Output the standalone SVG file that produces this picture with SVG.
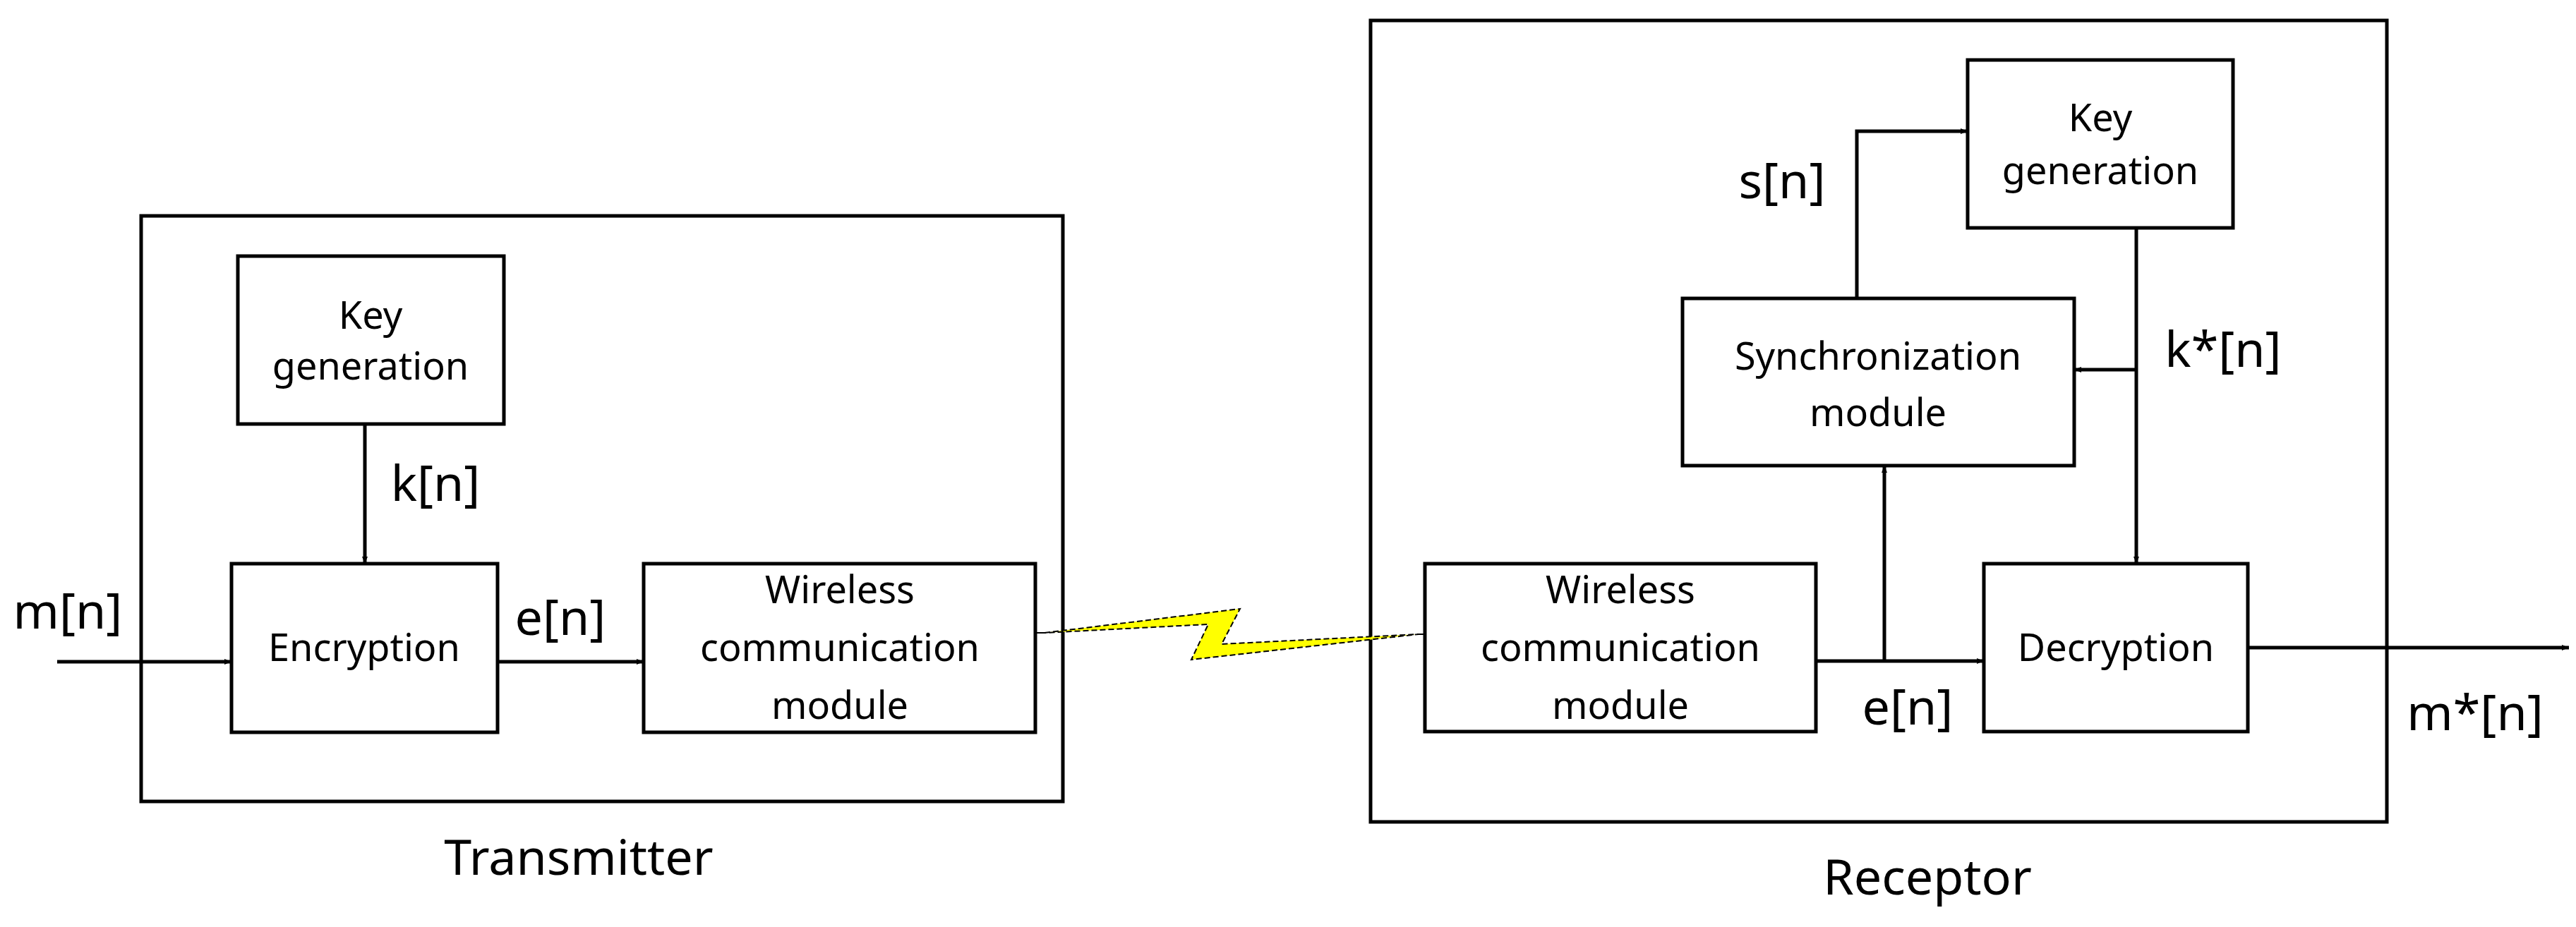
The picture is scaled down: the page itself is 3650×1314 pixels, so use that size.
<svg xmlns="http://www.w3.org/2000/svg" width="3650" height="1314" viewBox="0 0 3650 1314">
<style>
rect{fill:#fff;stroke:#000;stroke-width:5}
text{font-family:"Noto Sans","Liberation Sans",sans-serif;font-size:54px;text-anchor:middle;fill:#000}
.lb{font-size:70px}
.cn{fill:none;stroke:#000;stroke-width:5}
</style>
<defs><marker id="a" markerWidth="10" markerHeight="8" refX="10" refY="4" orient="auto" markerUnits="userSpaceOnUse" viewBox="0 0 10 8"><path d="M0,0L10,4L0,8Z" fill="#000"/></marker></defs>
<rect width="3650" height="1314" style="stroke:none"/>
<g id="transmitter"><rect x="200" y="306" width="1306" height="830"/><text x="820" y="1240" class="lb">Transmitter</text></g>
<g id="receptor"><rect x="1942" y="29" width="1440" height="1136"/><text x="2731" y="1268" class="lb">Receptor</text></g>
<g id="keygen1"><rect x="337" y="363" width="377" height="238"/><text x="525" y="466">Key</text><text x="525" y="538">generation</text></g>
<g id="encryption"><rect x="328" y="799" width="377" height="239"/><text x="516" y="937">Encryption</text></g>
<g id="wireless1"><rect x="912" y="799" width="555" height="239"/><text x="1190" y="855">Wireless</text><text x="1190" y="937">communication</text><text x="1190" y="1019">module</text></g>
<g id="keygen2"><rect x="2788" y="85" width="376" height="238"/><text x="2976" y="186">Key</text><text x="2976" y="261">generation</text></g>
<g id="sync"><rect x="2384" y="423" width="555" height="237"/><text x="2661" y="524">Synchronization</text><text x="2661" y="604">module</text></g>
<g id="wireless2"><rect x="2019" y="799" width="554" height="238"/><text x="2296" y="855">Wireless</text><text x="2296" y="937">communication</text><text x="2296" y="1019">module</text></g>
<g id="decryption"><rect x="2811" y="799" width="374" height="238"/><text x="2998" y="937">Decryption</text></g>
<g id="connectors">
<path class="cn" d="M81,938H328" marker-end="url(#a)" style="stroke-width:5" transform=""/>
<path class="cn" d="M517,601V799" marker-end="url(#a)"/>
<path class="cn" d="M705,938H912" marker-end="url(#a)"/>
<path class="cn" d="M2573,937H2811" marker-end="url(#a)"/>
<path class="cn" d="M2670,937V660" marker-end="url(#a)"/>
<path class="cn" d="M2631,423V186H2788" marker-end="url(#a)"/>
<path class="cn" d="M3027,323V799" marker-end="url(#a)"/>
<path class="cn" d="M3027,524H2939" marker-end="url(#a)"/>
<path class="cn" d="M3185,918H3640" marker-end="url(#a)"/>
<path d="M1467,897H1482M2008,899H2019" stroke="#000" stroke-width="2"/>
<polygon points="1480,897 1757,863 1731,913 2010,899 1688,935 1712,885" fill="#ffff00" stroke="#000" stroke-width="2" stroke-dasharray="8,4"/>
</g>
<g id="labels">
<text x="96" y="891" class="lb">m[n]</text>
<text x="617" y="710" class="lb">k[n]</text>
<text x="794" y="900" class="lb">e[n]</text>
<text x="2525" y="281" class="lb">s[n]</text>
<text x="3150" y="520" class="lb">k*[n]</text>
<text x="2703" y="1027" class="lb">e[n]</text>
<text x="3507" y="1035" class="lb">m*[n]</text>
</g>
</svg>
